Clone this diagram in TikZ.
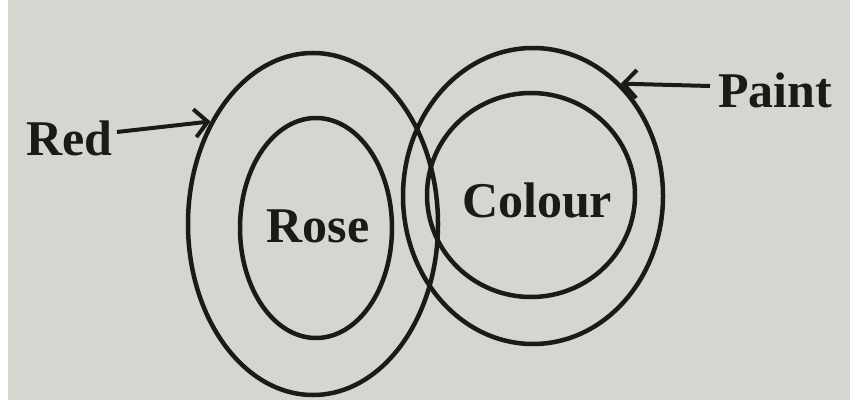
\documentclass[tikz,border=0pt]{standalone}
\usepackage{fontspec}
\setmainfont{Liberation Serif}
\usetikzlibrary{shapes.geometric,arrows.meta}
\definecolor{paper}{RGB}{214,214,208}
\definecolor{ink}{RGB}{28,26,24}
\tikzset{
  setline/.style={ellipse, draw=ink, line width=4.5pt, inner sep=0pt},
  lbl/.style={text=ink, font=\bfseries\fontsize{50}{50}\selectfont, inner sep=0pt},
  pointer/.style={draw=ink, line width=4pt, -{Straight Barb[length=13pt,width=28pt,line width=4pt]}}
}
\begin{document}
\begin{tikzpicture}[x=1pt,y=-1pt]
\useasboundingbox (0,0) rectangle (850,409);
\fill[white] (0,0) rectangle (850,409);
\fill[paper] (8,0) rectangle (850,400);
% sets
\node[setline, minimum width=250pt, minimum height=342pt] (red) at (313,224) {};
\node[setline, minimum width=152pt, minimum height=220pt] (rose) at (316,228) {};
\node[setline, minimum width=260pt, minimum height=296pt] (paint) at (533,196) {};
\node[setline, minimum width=208pt, minimum height=204pt] (colour) at (531,195) {};
% labels
\node[lbl] (rosel) at (318,226) {Rose};
\node[lbl] (colourl) at (537,200) {Colour};
\node[lbl, anchor=east] (redl) at (113,138) {Red};
\node[lbl, anchor=west] (paintl) at (718,90) {Paint};
% pointers
\draw[pointer] (redl.east) ++(4,-6) coordinate (rs) -- (red.135);
\draw[pointer] (paintl.west) ++(-8,-4) coordinate (ps) -- (paint.52);
\end{tikzpicture}
\end{document}
